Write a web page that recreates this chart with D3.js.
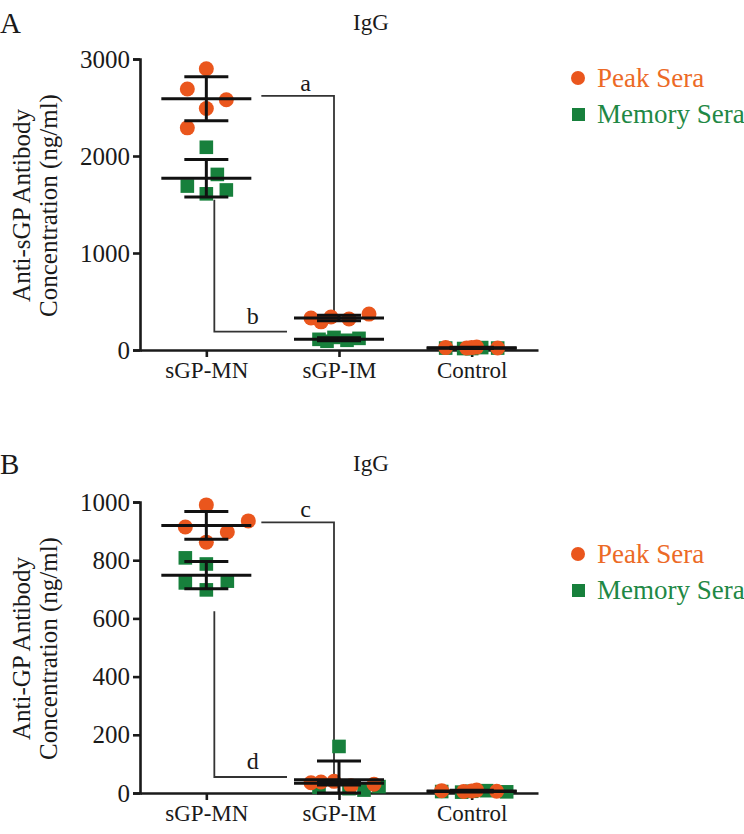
<!DOCTYPE html>
<html>
<head>
<meta charset="utf-8">
<script src="https://cdn.jsdelivr.net/npm/d3@7"></script>
<style>
  html, body { margin: 0; padding: 0; background: #ffffff; }
  svg { display: block; }
</style>
</head>
<body>
<svg id="chart" width="744" height="834"></svg>
<script>
// ---------------- DATA ----------------
const categories = ["sGP-MN", "sGP-IM", "Control"];
const seriesNames = ["Peak Sera", "Memory Sera"];

// Panel A (Anti-sGP, ng/ml)
const ticksA = [0, 1000, 2000, 3000];
const peakA_MN = [2900, 2690, 2580, 2490, 2290];
const memA_MN = [2090, 1810, 1690, 1650, 1610];
const peakA_IM = [330, 340, 320, 370, 290];
const memA_IM = [110, 130, 100, 120, 90];
const peakA_Ctrl = [25, 20, 30, 20, 25];
const memA_Ctrl = [20, 15, 25, 20, 15];

// Panel B (Anti-GP, ng/ml)
const ticksB = [0, 200, 400, 600, 800, 1000];
const peakB_MN = [990, 935, 914, 897, 862];
const memB_MN = [808, 787, 722, 728, 698];
const peakB_IM = [35, 40, 25, 30, 38];
const memB_IM = [160, 20, 15, 10, 22];
const peakB_Ctrl = [8, 5, 10, 6, 7];
const memB_Ctrl = [5, 3, 8, 4, 6];

// Significance brackets (values in ng/ml)
const bracketsA = [
  { label: "a", type: "down", top: 2620, bottom: 330 },
  { label: "b", type: "up", top: 1550, bottom: 190 }
];
const bracketsB = [
  { label: "c", type: "down", top: 930, bottom: 40 },
  { label: "d", type: "up", top: 625, bottom: 55 }
];

// ---------------- DRAW ----------------
const svg = d3.select("#chart");
const FONT = "Liberation Serif";
const INK = "#1a1a1a";
const ORANGE = "#EA561D";
const GREEN = "#17803C";

// jitter offsets (px) per point index (layout only)
const jitterMN_peakA = [0, -19, 20, 0, -19];
const jitterMN_memA = [0, 11, -19, 20, 0];
const jitterMN_peakB = [0, 42, -21, 21, 0];
const jitterMN_memB = [-21, 0, -21, 21, 0];

function txt(sel, size) {
  return sel.attr("font-family", FONT).attr("font-size", size).attr("fill", INK);
}

function panel(cfg) {
  const g = svg.append("g");
  const y = d3.scaleLinear().domain(cfg.domain).range([cfg.y0, cfg.y1]);
  const x = d3.scalePoint().domain(categories).range([140, 538]).padding(0.5);

  // y axis
  const yAxis = d3.axisLeft(y).tickValues(cfg.ticks).tickSize(7).tickPadding(3).tickFormat(d3.format("d"));
  const ya = g.append("g").attr("transform", "translate(140,0)").call(yAxis);
  ya.attr("font-family", FONT);
  ya.select(".domain").attr("stroke", INK).attr("stroke-width", 2.6);
  ya.selectAll(".tick line").attr("stroke", INK).attr("stroke-width", 2.6);
  txt(ya.selectAll(".tick text"), 25);

  // x axis
  const xAxis = d3.axisBottom(x).tickSize(7).tickSizeOuter(0).tickPadding(5);
  const xa = g.append("g").attr("transform", `translate(0,${cfg.y0})`).call(xAxis);
  xa.attr("font-family", FONT);
  xa.select(".domain").attr("stroke", INK).attr("stroke-width", 2.6);
  xa.selectAll(".tick line").attr("stroke", INK).attr("stroke-width", 2.6);
  txt(xa.selectAll(".tick text"), 23);

  // y label
  const lab = txt(g.append("text"), 25)
    .attr("transform", `translate(30,${(cfg.y0 + cfg.y1) / 2 + 1}) rotate(-90)`)
    .attr("text-anchor", "middle");
  lab.append("tspan").attr("x", 0).attr("dy", 0).text(cfg.ylabel1);
  lab.append("tspan").attr("x", 0).attr("dy", 27).text(cfg.ylabel2);

  // title & panel letter
  txt(g.append("text"), 23).attr("x", 371).attr("y", cfg.titleY).attr("text-anchor", "middle").text("IgG");
  txt(g.append("text"), 29).attr("x", 0).attr("y", cfg.titleY + 3).text(cfg.letter);

  // brackets
  cfg.brackets.forEach(b => {
    let path, lx, ly;
    if (b.type === "down") {
      const xl = x(categories[0]) + 55, xr = x(categories[1]) - 5;
      path = `M${xl},${y(b.top)}H${xr}V${y(b.bottom)}`;
      lx = (xl + xr) / 2 + 8; ly = y(b.top) - 5;
    } else {
      const xl = x(categories[0]) + 8, xr = x(categories[1]) - 52;
      path = `M${xl},${y(b.top)}V${y(b.bottom)}H${xr}`;
      lx = (xl + xr) / 2 + 2; ly = y(b.bottom) - 8;
    }
    g.append("path").attr("d", path).attr("fill", "none")
      .attr("stroke", "#333").attr("stroke-width", 1.8);
    txt(g.append("text"), 24).attr("x", lx).attr("y", ly).attr("text-anchor", "middle").text(b.label);
  });

  // points
  const groups = cfg.groups;
  groups.forEach(gr => {
    const cx = x(gr.cat);
    gr.vals.forEach((v, i) => {
      const px = cx + gr.jit[i];
      if (gr.kind === "peak") {
        g.append("circle").attr("cx", px).attr("cy", y(v)).attr("r", 7.5).attr("fill", ORANGE);
      } else {
        g.append("rect").attr("x", px - 6.8).attr("y", y(v) - 6.8)
          .attr("width", 13.6).attr("height", 13.6).attr("fill", GREEN);
      }
    });
  });

  // mean ± SD
  groups.forEach(gr => {
    const cx = x(gr.cat);
    const m = d3.mean(gr.vals), s = d3.deviation(gr.vals);
    const lo = Math.max(m - s, 0), hi = m + s;
    const lw = 3;
    const L = (x1, x2, y1, y2) => g.append("line").attr("x1", x1).attr("x2", x2).attr("y1", y1).attr("y2", y2)
      .attr("stroke", "#111").attr("stroke-width", lw);
    L(cx - 45, cx + 45, y(m), y(m));
    L(cx - 22, cx + 22, y(hi), y(hi));
    L(cx - 22, cx + 22, y(lo), y(lo));
    L(cx, cx, y(hi), y(lo));
  });

  // legend
  const lg = g.append("g");
  lg.append("circle").attr("cx", 578).attr("cy", cfg.legendY).attr("r", 7).attr("fill", ORANGE);
  lg.append("text").attr("x", 597).attr("y", cfg.legendY + 9)
    .attr("font-family", FONT).attr("font-size", 27).attr("fill", "#EC6A26").text(seriesNames[0]);
  lg.append("rect").attr("x", 572).attr("y", cfg.legendY + 30).attr("width", 13).attr("height", 13).attr("fill", GREEN);
  lg.append("text").attr("x", 597).attr("y", cfg.legendY + 45)
    .attr("font-family", FONT).attr("font-size", 27).attr("fill", "#1F8845").text(seriesNames[1]);
}

panel({
  domain: [0, 3000], y0: 350, y1: 59, ticks: ticksA,
  ylabel1: "Anti-sGP Antibody", ylabel2: "Concentration (ng/ml)",
  titleY: 30, letter: "A", legendY: 78,
  brackets: bracketsA,
  groups: [
    { cat: "sGP-MN", kind: "peak", vals: peakA_MN, jit: jitterMN_peakA },
    { cat: "sGP-MN", kind: "mem", vals: memA_MN, jit: jitterMN_memA },
    { cat: "sGP-IM", kind: "peak", vals: peakA_IM, jit: [-28, -8, 10, 30, -18] },
    { cat: "sGP-IM", kind: "mem", vals: memA_IM, jit: [-20, -5, 8, 20, -12] },
    { cat: "Control", kind: "mem", vals: memA_Ctrl, jit: [-26, -8, 10, 26, 0] },
    { cat: "Control", kind: "peak", vals: peakA_Ctrl, jit: [-26, -5, 5, 26, 0] }
  ]
});

panel({
  domain: [0, 1000], y0: 793, y1: 502, ticks: ticksB,
  ylabel1: "Anti-GP Antibody", ylabel2: "Concentration (ng/ml)",
  titleY: 471, letter: "B", legendY: 554,
  brackets: bracketsB,
  groups: [
    { cat: "sGP-MN", kind: "peak", vals: peakB_MN, jit: jitterMN_peakB },
    { cat: "sGP-MN", kind: "mem", vals: memB_MN, jit: jitterMN_memB },
    { cat: "sGP-IM", kind: "mem", vals: memB_IM, jit: [0, -20, 10, 25, 40] },
    { cat: "sGP-IM", kind: "peak", vals: peakB_IM, jit: [-28, -5, 12, 35, -18] },
    { cat: "Control", kind: "mem", vals: memB_Ctrl, jit: [-30, -10, 15, 35, 0] },
    { cat: "Control", kind: "peak", vals: peakB_Ctrl, jit: [-30, -8, 5, 25, 0] }
  ]
});
</script>
</body>
</html>
